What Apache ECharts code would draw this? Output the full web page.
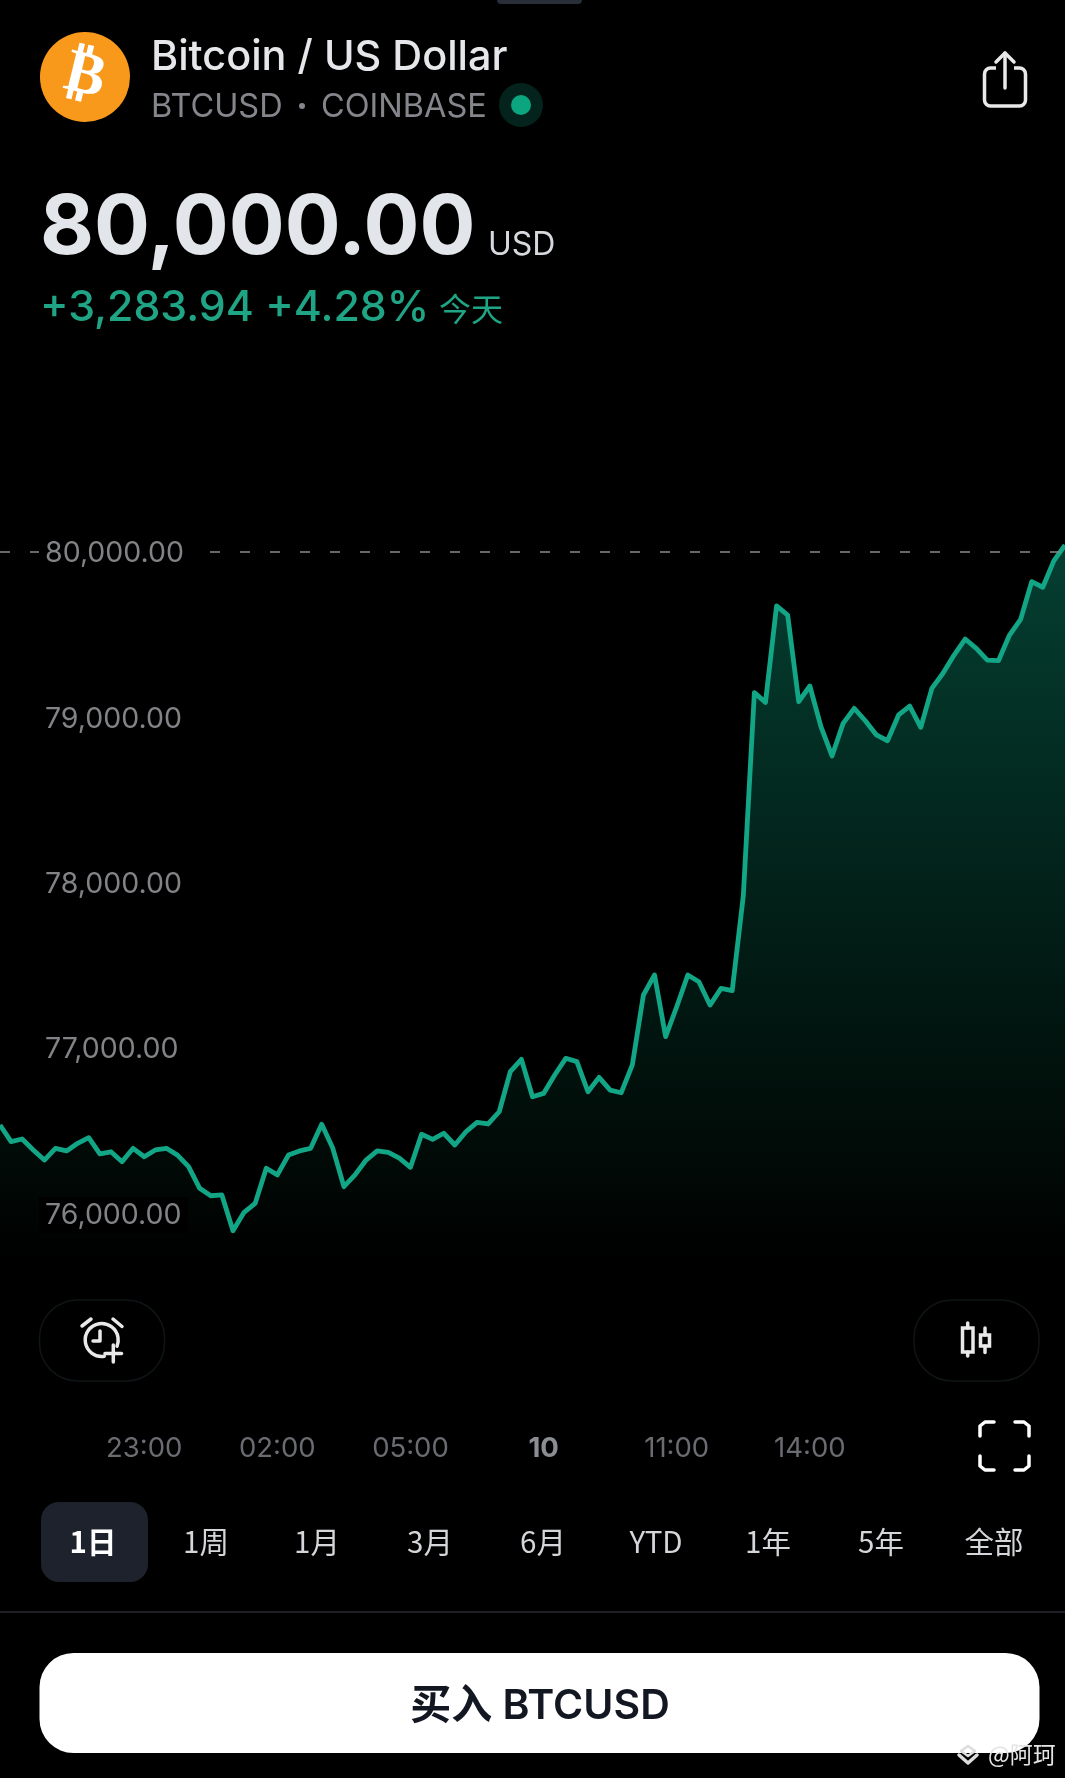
<!DOCTYPE html>
<html>
<head>
<meta charset="utf-8">
<style>html,body{margin:0;padding:0;background:#000}#c{width:1065px;height:1778px}</style>
<script src="https://cdn.jsdelivr.net/npm/echarts@6/dist/echarts.min.js"></script>
</head>
<body>
<div id="c"></div>
<script>
const categories = ['19:45','20:00','20:15','20:30','20:45','21:00','21:15','21:30','21:45','22:00','22:15','22:30','22:45','23:00','23:15','23:30','23:45','00:00','00:15','00:30','00:45','01:00','01:15','01:30','01:45','02:00','02:15','02:30','02:45','03:00','03:15','03:30','03:45','04:00','04:15','04:30','04:45','05:00','05:15','05:30','05:45','06:00','06:15','06:30','06:45','07:00','07:15','07:30','07:45','08:00','08:15','08:30','08:45','09:00','09:15','09:30','09:45','10:00','10:15','10:30','10:45','11:00','11:15','11:30','11:45','12:00','12:15','12:30','12:45','13:00','13:15','13:30','13:45','14:00','14:15','14:30','14:45','15:00','15:15','15:30','15:45','16:00','16:15','16:30','16:45','17:00','17:15','17:30','17:45','18:00','18:15','18:30','18:45','19:00','19:15','19:30','19:45+'];
const prices = [76534,76433,76449,76383,76322,76393,76377,76423,76457,76359,76372,76312,76393,76342,76383,76393,76352,76282,76151,76106,76111,75895,76006,76060,76272,76232,76352,76377,76393,76538,76393,76161,76232,76322,76377,76369,76333,76278,76478,76447,76484,76413,76493,76550,76540,76614,76856,76931,76705,76725,76836,76937,76917,76735,76822,76745,76729,76897,77320,77441,77068,77249,77441,77400,77259,77360,77346,77918,79148,79089,79672,79617,79093,79188,78942,78765,78962,79053,78978,78892,78857,79013,79067,78938,79174,79265,79375,79472,79416,79345,79341,79496,79591,79819,79785,79946,80040];
const xTickCategories = ['23:00','02:00','05:00','08:00','11:00','14:00'];
const xTickLabels = ['23:00','02:00','05:00','10','11:00','14:00'];
const yTicks = [76000,77000,78000,79000,80000];
const lastPrice = 80000;
const rangeTabs = ['1日','1周','1月','3月','6月','YTD','1年','5年','全部'];
const titleText = 'Bitcoin / US Dollar';
const subLeft = 'BTCUSD';
const subRight = 'COINBASE';
const priceText = '80,000.00';
const currency = 'USD';
const changeText = '+3,283.94 +4.28%';
const todayText = '今天';
const buyText = '买入 BTCUSD';
const watermark = '@阿珂';

const FONT = "Inter, 'Noto Sans CJK SC', sans-serif";
const CJK = "'Noto Sans CJK SC', Inter, sans-serif";
const ICON = '#e9e9ea';

function txt(text, x, y, size, fill, opt) {
  opt = opt || {};
  return {type:'text', silent:true, z:opt.z||20, style:{text, x, y, fontSize:size, fontFamily:opt.family||FONT,
    fontWeight:opt.weight||400, fill, textAlign:opt.align||'left', textVerticalAlign:'middle'}};
}
function seg(pts, w, c) {
  return {type:'polyline', silent:true, z:20, shape:{points:pts}, style:{stroke:c||ICON, lineWidth:w||3, fill:null, lineCap:'round', lineJoin:'round'}};
}
function box(x,y,width,height,r,fill,stroke,lw,z) {
  return {type:'rect', silent:true, z:z||15, shape:{x,y,width,height,r}, style:{fill:fill||null, stroke:stroke||null, lineWidth:lw||0}};
}
function circ(cx,cy,r,fill,z) {
  return {type:'circle', silent:true, z:z||15, shape:{cx,cy,r}, style:{fill}};
}

const tabCenters = [93,206,317,430,543,656,768,881,994];
const graphics = [
  box(497,-6,85,10,4,'#2a2e39'),
  circ(85,77,45,'#f9991c'),
  {type:'text', silent:true, z:20, x:85, y:77, rotation:-0.24, style:{text:'₿', x:0, y:0, fontSize:60, fontWeight:700, fontFamily:"'DejaVu Sans'", fill:'#fff', textAlign:'center', textVerticalAlign:'middle'}},
  txt(titleText,151,58,41.4,'#e6e7ea',{weight:500}),
  txt(subLeft,151,107,32.5,'#85868c'),
  circ(302,106,3,'#85868c'),
  txt(subRight,321,107,32.5,'#85868c'),
  circ(521,105,22,'#04231c'),
  circ(521,105,10,'#0ba680'),
  box(984.5,68,41,38,6,null,ICON,3.5),
  box(996,64,18,8,0,'#000',null,0,16),
  seg([[1005,88],[1005,53]],3.5),
  seg([[996,62],[1005,53],[1014,62]],3.5),
  txt(priceText,40,229,83,'#e2e5ea',{weight:700}),
  txt(currency,488,245,32,'#d5d8dc'),
  txt(changeText,40,308,42.8,'#1fa585',{weight:500}),
  txt(todayText,439,309,32,'#1fa585',{family:CJK}),
  // round buttons
  box(39.5,1300,125,81,38,'#000','#0f1416',1.5,15),
  box(914,1300,125,81,38,'#000','#0f1416',1.5,15),
  // alarm icon
  {type:'arc', silent:true, z:20, shape:{cx:101.7,cy:1340,r:16.5,startAngle:Math.PI*0.45,endAngle:Math.PI*0.12,clockwise:true}, style:{stroke:ICON,lineWidth:3.5,fill:null,lineCap:'round'}},
  seg([[100,1331],[100,1341],[93,1341]],3.5),
  seg([[82,1326],[91,1319]],3.5),
  seg([[113,1319],[122,1326.5]],3.5),
  seg([[105,1353.5],[121.5,1353.5]],3.5),
  seg([[113.3,1345],[113.3,1362]],3.5),
  // candle icon
  box(962.5,1328,10.5,24,0,null,ICON,3.5,20),
  seg([[967.7,1323],[967.7,1328]],3.5),
  seg([[967.7,1352],[967.7,1356]],3.5),
  box(980.5,1335,9,11,0,null,ICON,3.5,20),
  seg([[985,1328],[985,1335]],3.5),
  seg([[985,1346],[985,1352.5]],3.5),
  // fullscreen icon
  seg([[980,1436],[980,1426],[985,1422],[994,1422]],3.5,'#fff'),
  seg([[1015,1422],[1024,1422],[1029,1426],[1029,1436]],3.5,'#fff'),
  seg([[980,1456],[980,1466],[985,1470],[994,1470]],3.5,'#fff'),
  seg([[1015,1470],[1024,1470],[1029,1466],[1029,1456]],3.5,'#fff'),
  // tabs
  box(41,1502,107,80,18,'#1e222d'),
  {type:'line', silent:true, z:15, shape:{x1:0,y1:1612,x2:1065,y2:1612}, style:{stroke:'#2a2a35',lineWidth:1.5}},
  box(39.5,1653,1000,100,34,'#fff'),
  txt(buyText,540,1707,41,'#131722',{weight:600,align:'center'}),
  // watermark
  seg([[961,1751],[968,1746],[975,1751],[968,1756],[961,1751]],2.5,'#ddd'),
  seg([[959,1755],[968,1763],[977,1755]],3.5,'#ddd'),
  txt(watermark,988,1754,23,'#e5e5e5',{family:CJK,z:25})
];
rangeTabs.forEach((t,i)=>graphics.push(txt(t,tabCenters[i],1542,29.5,i===0?'#fff':'#d4d6da',{align:'center',weight:i===0?600:400,family:CJK})));

const chart = echarts.init(document.getElementById('c'), null, {renderer:'canvas'});
chart.setOption({
  backgroundColor:'#000',
  animation:false,
  grid:[
    {left:-0.8, top:386.3, width:1069.44, height:992.4},
    {left:-0.8, top:388.3, width:1069.44, height:992.4}
  ],
  xAxis:[{
    type:'category', data:categories, boundaryGap:false, gridIndex:0,
    axisLine:{show:false}, axisTick:{show:false}, splitLine:{show:false},
    axisLabel:{
      margin:56, fontSize:27.5, fontFamily:FONT, color:'#6a6c71',
      interval:(i,v)=>xTickCategories.includes(v),
      formatter:(v)=>{const k=xTickCategories.indexOf(v); const s=k>=0?xTickLabels[k]:''; return s==='10'?'{b|'+s+'}':s;},
      rich:{b:{fontSize:27.5,fontWeight:700,color:'#8a8d92',fontFamily:FONT}}
    }
  },{
    type:'category', data:categories, boundaryGap:false, gridIndex:1, show:false
  }],
  yAxis:[{
    type:'value', min:75000, max:81000, interval:1000, gridIndex:0, show:false
  },{
    type:'value', min:75000, max:81000, interval:1000, gridIndex:1, z:10,
    axisLine:{show:false}, axisTick:{show:false}, splitLine:{show:false},
    axisLabel:{
      inside:true, margin:39, fontSize:28.5, fontFamily:FONT, color:'#828387',
      backgroundColor:'#000', padding:[4,6,4,6],
      formatter:(v)=>yTicks.includes(v)?v.toLocaleString('en-US',{minimumFractionDigits:2}):''
    }
  }],
  graphic:graphics,
  series:[{
    type:'line', data:prices, showSymbol:false, smooth:false, z:2, xAxisIndex:0, yAxisIndex:0,
    lineStyle:{color:'#12a686',width:4.8,join:'round'},
    areaStyle:{origin:'start',color:{type:'linear',global:true,x:0,y:545,x2:0,y2:1262,colorStops:[
      {offset:0,color:'#075a47'},{offset:0.3,color:'#043f30'},{offset:0.62,color:'#02231a'},{offset:0.88,color:'#010c08'},{offset:1,color:'#000'}]}},
    markLine:{silent:true,symbol:'none',label:{show:false},animation:false,
      lineStyle:{color:'#8a8a8a',type:[10,20],width:1.6},
      data:[{yAxis:lastPrice}]}
  }]
});
</script>
</body>
</html>
